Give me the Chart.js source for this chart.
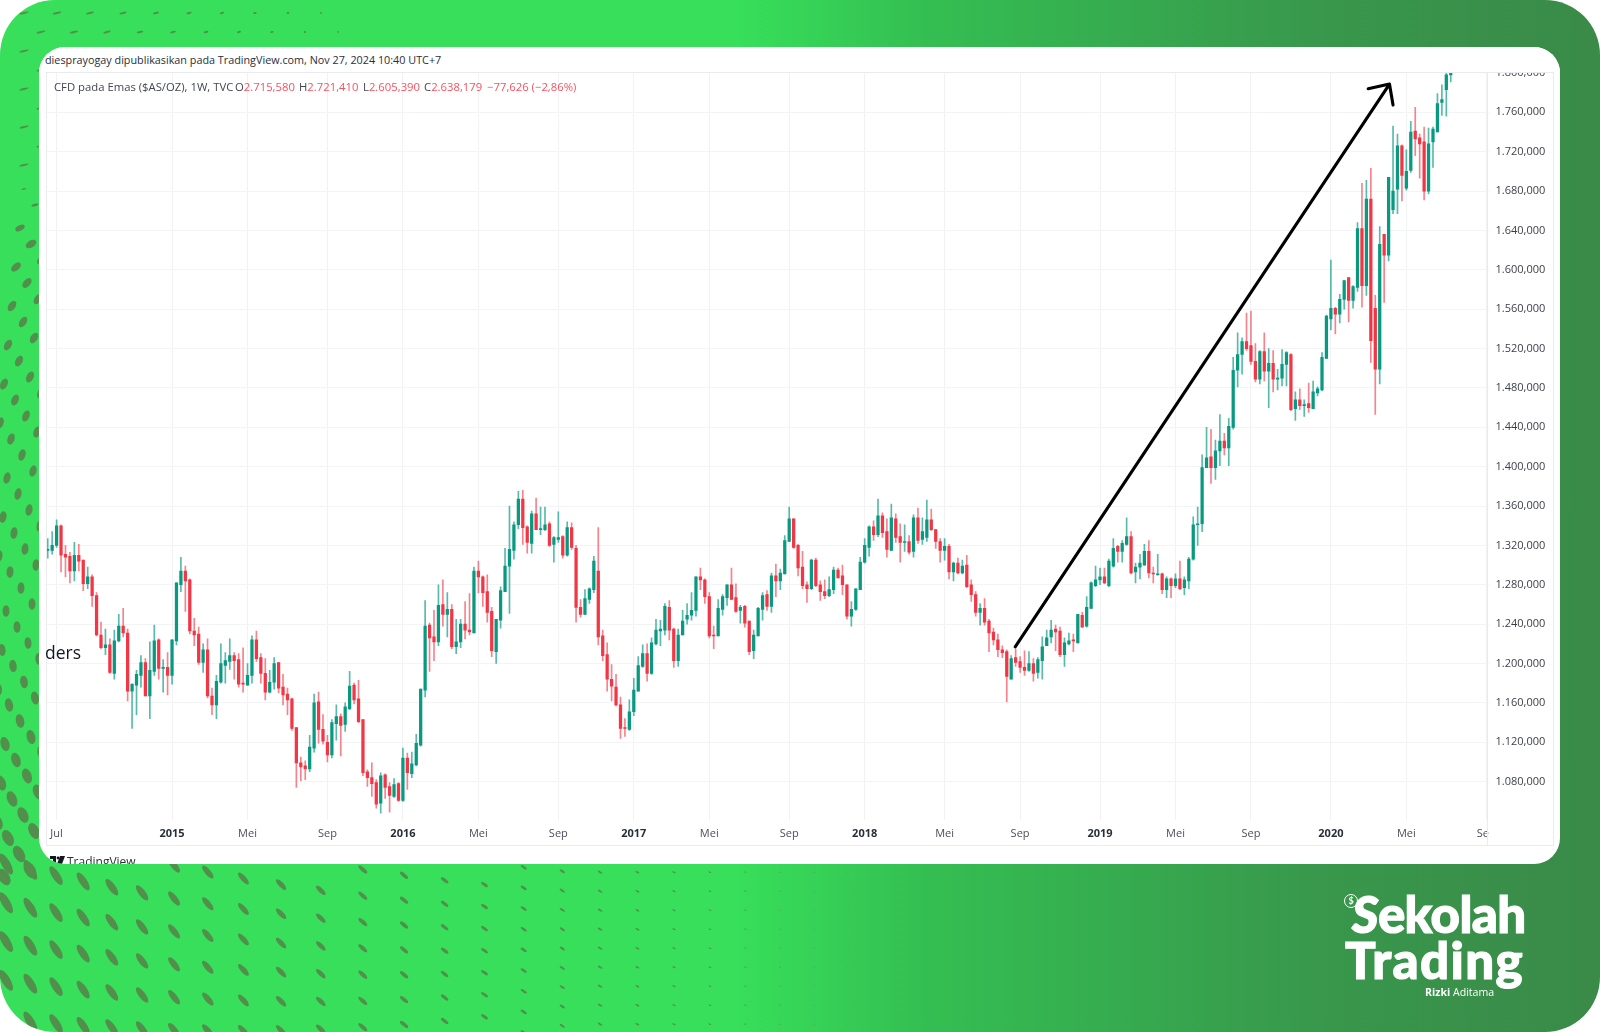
<!DOCTYPE html>
<html>
<head>
<meta charset="utf-8">
<title>CFD pada Emas</title>
<script src="https://cdn.jsdelivr.net/npm/chart.js@4"></script>
<style>
  html, body { margin: 0; padding: 0; background: #fff; }
  #page { position: absolute; left: 0; top: 0; width: 1600px; height: 1032px; overflow: hidden; border-radius: 55px;
          background: linear-gradient(90deg, #37df5a 0%, #37df5a 46%, #34be52 58%, #38984c 82%, #3a8a48 100%); }
  #dots { position: absolute; left: 0; top: 0; }
  #card { position: absolute; left: 39px; top: 47px; width: 1521px; height: 817px; background: #fff; border-radius: 26px; overflow: hidden; }
  #card canvas { position: absolute; left: 0; top: 0; }
  #card div { position: absolute; white-space: nowrap; }
  #head { left: 0; top: 0; width: 1521px; height: 25px; background: #fff; }
  #byline { left: 6px; top: 5px; font: 10.8px "Open Sans", sans-serif; color: #2a2e39; }
  #frame { left: 7px; top: 25px; width: 1508px; height: 774px; border: 1px solid #e9eaf2; box-sizing: border-box; }
  #sep { left: 1448px; top: 25px; width: 1px; height: 774px; background: #e9eaf2; }
  #cover { left: 1450px; top: 774px; width: 30px; height: 24px; background: #fff; }
  .legend { top: 32px; font: 11.3px "Open Sans", sans-serif; color: #434651; }
  .legend b { font-weight: 400; color: #f7525f; }
  #ders { left: 6px; top: 593px; font: 17.5px "Open Sans", sans-serif; color: #131722; }
  #tv { left: 28px; top: 806px; font: 12px "Open Sans", sans-serif; color: #2a2e39; }
  #tvlogo { left: 11px; top: 809px; }
  .brand { position: absolute; color: #fff; font-family: Lato, sans-serif; font-weight: 900; white-space: nowrap; -webkit-text-stroke: 1.2px #fff; }
</style>
</head>
<body>
<div id="page">
  <canvas id="dots" width="1600" height="1032"></canvas>
  <div id="card">
    <canvas id="goldChart" width="1521" height="817"></canvas>
    <div id="head"></div>
    <div id="byline">diesprayogay dipublikasikan pada TradingView.com, Nov 27, 2024 10:40 UTC+7</div>
    <div id="cover"></div>
    <div id="sep"></div>
    <div id="frame"></div>
    <div class="legend" style="left:15px">CFD pada Emas ($AS/OZ), 1W, TVC</div>
    <div class="legend" style="left:196px">O<b>2.715,580</b></div>
    <div class="legend" style="left:260px">H<b>2.721,410</b></div>
    <div class="legend" style="left:324px">L<b>2.605,390</b></div>
    <div class="legend" style="left:385px">C<b>2.638,179</b></div>
    <div class="legend" style="left:448px"><b>−77,626 (−2,86%)</b></div>
    <div id="ders">ders</div>
    <svg id="tvlogo" style="position:absolute" width="15" height="9" viewBox="0 0 15 9"><path d="M0 0h6v8H3V3H0zM7 8l3-8h5l-3 8z" fill="#131722"/><circle cx="8" cy="2" r="1.4" fill="#131722"/></svg>
    <div id="tv">TradingView</div>
  </div>
  <div style="position:absolute;left:1344px;top:894px;width:12px;height:12px;border:1px solid #fff;border-radius:50%;color:#fff;font:bold 9px/12px Lato,sans-serif;text-align:center">$</div>
  <div class="brand" style="left:1352px;top:884px;font-size:51px;line-height:60px;letter-spacing:-0.6px"><i>S</i>ekolah</div>
  <div class="brand" style="left:1345px;top:930px;font-size:51px;line-height:60px;letter-spacing:1.4px">Trading</div>
  <div style="position:absolute;left:1425px;top:985px;color:#fff;font:10.6px/14px 'Open Sans',sans-serif;white-space:nowrap"><b>Rizki</b> Aditama</div>
</div>

<script>
// weekly candles. Candle 0 is the week of 23 Jun 2014
const opens = [
  1315,1315,1320,1340,1311,1309,1294,1310,1305,1281,
  1288,1269,1229,1216,1219,1190,1223,1238,1231,1172,
  1178,1188,1201,1167,1192,1224,1195,1196,1188,1223,
  1280,1294,1285,1233,1230,1201,1214,1167,1158,1181,
  1198,1202,1208,1204,1180,1178,1188,1224,1206,1190,
  1171,1181,1201,1176,1169,1164,1135,1099,1096,1093,
  1114,1161,1133,1120,1107,1139,1146,1138,1154,1178,
  1164,1143,1090,1084,1079,1058,1087,1075,1065,1078,
  1061,1104,1088,1097,1117,1173,1239,1227,1222,1260,
  1250,1255,1217,1222,1240,1234,1231,1294,1288,1273,
  1253,1212,1244,1273,1299,1315,1341,1367,1339,1322,
  1352,1336,1336,1342,1321,1326,1329,1310,1338,1317,
  1257,1250,1265,1275,1294,1228,1209,1184,1176,1158,
  1135,1133,1151,1172,1197,1210,1190,1220,1233,1234,
  1257,1235,1203,1229,1245,1249,1254,1288,1285,1268,
  1229,1228,1255,1267,1280,1267,1254,1258,1243,1213,
  1228,1255,1270,1258,1289,1284,1291,1324,1347,1320,
  1298,1280,1276,1305,1280,1273,1269,1275,1295,1289,
  1280,1248,1255,1275,1303,1318,1339,1331,1350,1334,
  1315,1347,1329,1323,1324,1314,1348,1326,1328,1346,
  1336,1324,1315,1319,1293,1302,1292,1300,1280,1270,
  1252,1256,1243,1232,1224,1214,1212,1184,1206,1202,
  1196,1193,1200,1191,1203,1218,1227,1235,1233,1209,
  1220,1224,1221,1249,1238,1256,1279,1285,1288,1279,
  1299,1319,1314,1321,1329,1293,1298,1300,1314,1292,
  1290,1291,1275,1286,1279,1286,1277,1284,1306,1341,
  1342,1399,1410,1399,1416,1426,1419,1440,1498,1514,
  1527,1523,1507,1489,1517,1497,1505,1489,1490,1504,
  1514,1459,1468,1462,1464,1459,1475,1478,1510,1550,
  1561,1555,1570,1592,1569,1582,1642,1584,1672,1561,
  1499,1636,1615,1661,1682,1726,1683,1701,1741,1734,
  1730,1680,1730,1740,1770,1783,1798
];
const highs = [
  1327,1334,1346,1341,1320,1313,1323,1321,1305,1298,
  1290,1272,1242,1235,1225,1234,1250,1256,1235,1179,
  1193,1208,1205,1222,1239,1225,1204,1211,1224,1282,
  1308,1299,1286,1246,1237,1220,1225,1175,1188,1220,
  1211,1225,1211,1210,1216,1200,1228,1233,1210,1205,
  1193,1206,1201,1189,1175,1165,1135,1105,1101,1127,
  1169,1171,1148,1127,1143,1158,1149,1160,1192,1180,
  1183,1143,1092,1099,1082,1089,1088,1079,1083,1079,
  1114,1109,1110,1128,1174,1264,1241,1254,1280,1285,
  1272,1260,1245,1245,1263,1271,1298,1304,1289,1290,
  1257,1245,1278,1317,1360,1344,1375,1376,1340,1355,
  1368,1359,1359,1344,1329,1354,1330,1344,1343,1320,
  1265,1275,1277,1309,1338,1234,1221,1199,1189,1166,
  1144,1163,1185,1207,1219,1220,1226,1245,1244,1261,
  1264,1236,1235,1254,1261,1272,1288,1297,1286,1272,
  1238,1265,1270,1280,1297,1281,1259,1259,1243,1234,
  1257,1272,1274,1292,1301,1296,1330,1359,1347,1321,
  1314,1283,1306,1307,1284,1285,1288,1298,1297,1300,
  1280,1263,1276,1308,1327,1340,1345,1367,1353,1347,
  1362,1352,1342,1341,1330,1351,1358,1348,1366,1357,
  1336,1327,1327,1321,1303,1307,1305,1310,1285,1273,
  1261,1266,1245,1236,1230,1218,1214,1208,1215,1207,
  1213,1212,1205,1206,1227,1234,1244,1239,1237,1226,
  1231,1230,1250,1252,1268,1283,1299,1297,1297,1306,
  1327,1320,1325,1348,1334,1302,1311,1321,1325,1298,
  1311,1292,1288,1287,1291,1304,1288,1308,1349,1359,
  1412,1440,1438,1427,1453,1434,1449,1511,1536,1531,
  1556,1558,1525,1518,1536,1520,1518,1499,1519,1517,
  1515,1476,1479,1468,1485,1487,1481,1516,1554,1610,
  1562,1575,1589,1592,1584,1648,1688,1691,1703,1574,
  1644,1636,1694,1746,1738,1727,1722,1751,1765,1738,
  1745,1744,1745,1779,1788,1800,1803
];
const lows = [
  1307,1311,1318,1293,1288,1282,1284,1294,1274,1276,
  1258,1228,1215,1209,1190,1184,1222,1227,1162,1134,
  1148,1176,1167,1144,1188,1184,1171,1168,1179,1219,
  1273,1253,1230,1218,1199,1191,1165,1148,1144,1180,
  1180,1194,1184,1176,1171,1178,1180,1202,1180,1163,
  1170,1174,1170,1158,1148,1132,1074,1081,1082,1090,
  1110,1119,1118,1100,1104,1122,1106,1131,1153,1159,
  1140,1086,1075,1065,1053,1048,1063,1049,1064,1060,
  1060,1072,1084,1096,1116,1166,1192,1203,1218,1238,
  1227,1215,1210,1216,1225,1229,1231,1272,1258,1242,
  1207,1200,1236,1273,1251,1306,1337,1321,1312,1312,
  1336,1331,1335,1319,1303,1323,1307,1309,1316,1242,
  1247,1250,1261,1272,1219,1203,1172,1162,1157,1124,
  1126,1132,1147,1172,1196,1182,1189,1219,1218,1229,
  1224,1196,1197,1229,1240,1244,1248,1275,1261,1226,
  1215,1228,1249,1259,1265,1252,1241,1237,1209,1205,
  1228,1244,1254,1252,1268,1275,1291,1324,1317,1289,
  1276,1262,1275,1278,1264,1266,1268,1271,1287,1270,
  1245,1238,1254,1275,1302,1309,1325,1329,1328,1308,
  1315,1323,1303,1314,1311,1308,1322,1321,1324,1335,
  1317,1303,1305,1286,1284,1291,1291,1277,1263,1248,
  1239,1239,1212,1219,1207,1206,1161,1184,1197,1191,
  1188,1192,1182,1185,1184,1218,1221,1213,1207,1197,
  1219,1212,1221,1237,1237,1256,1278,1280,1281,1278,
  1298,1303,1303,1320,1291,1282,1286,1300,1287,1282,
  1290,1271,1267,1267,1277,1275,1270,1276,1305,1320,
  1334,1399,1383,1387,1401,1412,1401,1438,1481,1494,
  1518,1504,1486,1484,1487,1460,1476,1478,1482,1482,
  1457,1447,1458,1451,1455,1459,1472,1477,1510,1539,
  1535,1546,1560,1547,1561,1578,1562,1574,1506,1453,
  1484,1567,1609,1657,1657,1670,1681,1699,1716,1693,
  1671,1677,1704,1740,1757,1756,1791
];
const closes = [
  1316,1320,1340,1310,1308,1294,1310,1304,1281,1288,
  1269,1229,1216,1219,1191,1223,1238,1231,1172,1179,
  1189,1201,1167,1193,1223,1195,1196,1188,1224,1282,
  1294,1284,1233,1229,1201,1214,1167,1158,1182,1200,
  1203,1208,1203,1179,1179,1188,1224,1205,1190,1171,
  1181,1200,1175,1168,1163,1134,1099,1095,1093,1115,
  1160,1133,1121,1107,1140,1146,1137,1156,1177,1163,
  1141,1089,1084,1078,1057,1086,1074,1066,1077,1061,
  1104,1089,1098,1119,1174,1238,1226,1222,1259,1250,
  1255,1217,1222,1240,1234,1232,1294,1288,1272,1252,
  1213,1245,1274,1299,1316,1341,1367,1338,1323,1352,
  1336,1337,1341,1320,1328,1328,1310,1338,1318,1257,
  1250,1266,1276,1304,1227,1208,1184,1177,1158,1134,
  1134,1151,1173,1198,1210,1190,1221,1234,1235,1258,
  1234,1203,1229,1243,1249,1254,1288,1285,1268,1228,
  1228,1256,1268,1280,1265,1253,1257,1241,1212,1229,
  1256,1269,1258,1289,1284,1292,1325,1347,1318,1297,
  1279,1276,1305,1279,1273,1269,1275,1295,1287,1280,
  1248,1255,1276,1303,1320,1339,1331,1350,1333,1316,
  1348,1328,1323,1324,1313,1348,1325,1334,1346,1336,
  1324,1315,1319,1293,1302,1292,1299,1278,1270,1252,
  1256,1242,1231,1224,1214,1211,1187,1205,1201,1196,
  1193,1200,1190,1204,1217,1226,1234,1232,1209,1221,
  1223,1223,1250,1237,1257,1282,1285,1288,1282,1304,
  1317,1314,1322,1329,1292,1298,1302,1314,1292,1291,
  1291,1275,1286,1279,1286,1276,1285,1306,1341,1342,
  1399,1409,1399,1416,1426,1419,1441,1498,1514,1527,
  1520,1507,1489,1517,1497,1505,1489,1490,1504,1516,
  1458,1468,1462,1463,1460,1476,1479,1511,1553,1561,
  1555,1570,1589,1569,1583,1642,1584,1672,1528,1499,
  1626,1615,1694,1680,1726,1696,1700,1740,1733,1728,
  1680,1728,1743,1769,1773,1798,1800
];

// time axis: which week carries a label, and the label
const tickWeeks  = [2, 28, 45, 63, 80, 97, 115, 132, 149, 167, 184, 202, 219, 237, 254, 271, 289, 306, 324];
const tickLabels = ['Jul','2015','Mei','Sep','2016','Mei','Sep','2017','Mei','Sep','2018','Mei','Sep','2019','Mei','Sep','2020','Mei','Sep'];

const priceTicks = [1080,1120,1160,1200,1240,1280,1320,1360,1400,1440,1480,1520,1560,1600,1640,1680,1720,1760,1800];

// hand drawn trend arrow, in week / price units
const arrowWeeks  = [217.9, 302.2];
const arrowPrices = [1217, 1788.7];
const arrowHeadWeeks  = [297.4, 303];
const arrowHeadPrices = [1784, 1767.4];

const EMPTY_WEEKS = 8;   // blank space right of the last candle
const UP = '#089981';
const DOWN = '#f23645';
const UP_WICK = 'rgba(8,153,129,0.68)';
const DOWN_WICK = 'rgba(242,54,69,0.62)';

const weeks = [];
for (let i = 0; i < opens.length + EMPTY_WEEKS; i++) {
  weeks.push(new Date(Date.UTC(2014, 5, 23 + i * 7)).toISOString().slice(0, 10));
}

const isUp = (i) => closes[i] >= opens[i];

const priceLabel = (v) => {
  const s = String(v);
  return s.slice(0, 1) + '.' + s.slice(1) + ',000';
};

const arrowPlugin = {
  id: 'trendArrow',
  afterDatasetsDraw(chart) {
    const ctx = chart.ctx;
    const x = chart.scales.x, y = chart.scales.y;
    const tipX = x.getPixelForValue(arrowWeeks[1]);
    const tipY = y.getPixelForValue(arrowPrices[1]);
    ctx.save();
    ctx.strokeStyle = '#000';
    ctx.lineWidth = 3.1;
    ctx.lineCap = 'round';
    ctx.lineJoin = 'round';
    ctx.beginPath();
    ctx.moveTo(x.getPixelForValue(arrowWeeks[0]), y.getPixelForValue(arrowPrices[0]));
    ctx.lineTo(tipX, tipY);
    ctx.moveTo(x.getPixelForValue(arrowHeadWeeks[0]), y.getPixelForValue(arrowHeadPrices[0]));
    ctx.lineTo(tipX, tipY);
    ctx.lineTo(x.getPixelForValue(arrowHeadWeeks[1]), y.getPixelForValue(arrowHeadPrices[1]));
    ctx.stroke();
    ctx.restore();
  }
};

new Chart(document.getElementById('goldChart'), {
  type: 'bar',
  data: {
    labels: weeks,
    datasets: [
      {
        label: 'Body',
        data: opens.map((o, i) => [o, closes[i]]),
        backgroundColor: opens.map((o, i) => isUp(i) ? UP : DOWN),
        barThickness: 2.6,
        grouped: false,
        order: 1
      },
      {
        label: 'Wick',
        data: lows.map((l, i) => [l, highs[i]]),
        backgroundColor: lows.map((l, i) => isUp(i) ? UP_WICK : DOWN_WICK),
        barThickness: 1,
        grouped: false,
        order: 2
      }
    ]
  },
  options: {
    responsive: false,
    animation: false,
    layout: { padding: { left: 6.5, top: 25, right: 0, bottom: 18 } },
    plugins: { legend: { display: false }, tooltip: { enabled: false } },
    scales: {
      x: {
        type: 'category',
        offset: true,
        afterFit: (s) => { s.height = 26; },
        afterBuildTicks: (s) => { s.ticks = tickWeeks.map((w) => ({ value: w })); },
        grid: { color: '#f1f2f6', offset: false, drawTicks: false },
        border: { display: false },
        ticks: {
          autoSkip: false,
          maxRotation: 0,
          padding: 7,
          color: (c) => /^\d/.test(tickLabels[c.index]) ? '#2a2e39' : '#4c4f5a',
          font: (c) => ({ family: '"Open Sans", sans-serif', size: 11, weight: /^\d/.test(tickLabels[c.index]) ? 'bold' : 'normal' }),
          callback: (v, i) => tickLabels[i]
        }
      },
      y: {
        position: 'right',
        min: 1041,
        max: 1801,
        afterFit: (s) => { s.width = 71.5; },
        afterBuildTicks: (s) => { s.ticks = priceTicks.map((v) => ({ value: v })); },
        grid: { color: '#f3f4f7', drawTicks: false },
        border: { display: false },
        ticks: {
          autoSkip: false,
          padding: 7,
          color: '#3c3f4a',
          font: { family: '"Open Sans", sans-serif', size: 11 },
          callback: (v) => priceLabel(v)
        }
      }
    }
  },
  plugins: [arrowPlugin]
});

/* ----------------------------------------------------------
   Backdrop: the warped dot pattern behind the card
---------------------------------------------------------- */
function drawDots() {
  const ctx = document.getElementById('dots').getContext('2d');
  ctx.fillStyle = '#528f4c';
  const dot = (x, y, a, b, deg) => {
    ctx.beginPath();
    ctx.ellipse(x, y, a, b, deg * Math.PI / 180, 0, Math.PI * 2);
    ctx.fill();
  };

  // bottom band, shrinking to the right
  let yoff = 0;
  let x = 6;
  while (x < 880) {
    const semi = 11.5 * Math.pow(1 - x / 900, 1.5) + 0.4;
    const step = Math.max(19, 39 - x * 0.035);
    const y0 = 864 + (yoff % step);
    for (let y = y0; y < 1040; y += step) {
      dot(x, y, semi, semi * 0.36, 60 - x * 0.05);
    }
    const pitch = x < 320 ? 24 + x * 0.056 : 42 - (x - 320) * 0.017;
    yoff += pitch * 0.24 * Math.max(0, 1 - x / 520);
    x += pitch;
  }

  // left column: a slanted lattice that turns with height
  for (let j = -5; j < 17; j++) {
    for (let i = 0; i < 9; i++) {
      const px = 12 + 11 * i - 4 * j;
      const py = 306 + 16 * i + 39 * j;
      if (px < -6 || px > 44 || py < 180 || py > 880) continue;
      const k = Math.min(1, (py - 180) / 60);
      const semi = py < 640 ? 2 + 3.8 * k : 5.8 + (py - 640) * 0.014;
      const asp = 0.2 + 0.4 * k;
      const deg = py < 300 ? -5 - 50 * (py - 180) / 120 : -55 - (py - 300) * 0.115;
      dot(px, py, semi, semi * asp, deg);
    }
  }

  // top band and upper left: thin dashes that fade out
  let t = 0;
  for (let y = 13; y < 178; y += 19, t++) {
    for (let dx = 24 + (t % 2) * 17; dx < 340; dx += 33) {
      dot(dx, y, 4.8 * (1 - dx / 360) + 0.4, 1, -14);
    }
  }
}
drawDots();
</script>
</body>
</html>
